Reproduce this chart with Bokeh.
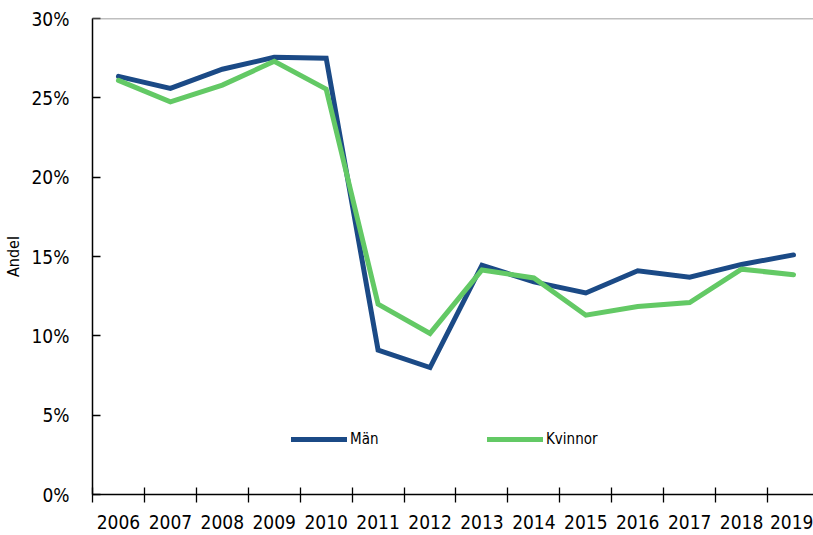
from bokeh.plotting import figure
from bokeh.models import FixedTicker, PrintfTickFormatter, Span, Legend, LegendItem
from bokeh.embed import file_html
from bokeh.resources import INLINE

years = ["2006", "2007", "2008", "2009", "2010", "2011", "2012",
         "2013", "2014", "2015", "2016", "2017", "2018", "2019"]
man = [26.35, 25.6, 26.8, 27.55, 27.5, 9.1, 8.0,
       14.45, 13.4, 12.7, 14.1, 13.7, 14.5, 15.1]
kvinnor = [26.1, 24.75, 25.8, 27.3, 25.55, 12.0, 10.15,
           14.15, 13.65, 11.3, 11.85, 12.1, 14.2, 13.85]
yticks = [0, 5, 10, 15, 20, 25, 30]

FONT = "DejaVu Sans Condensed"
BLUE = "#1b4a86"
GREEN = "#63c965"

n = len(years)
xs = [i + 0.5 for i in range(n)]

p = figure(width=813, height=535, output_backend="svg", toolbar_location=None,
           x_range=(0, 13.885), y_range=(0, 30),
           min_border_left=91, min_border_right=0, min_border_top=18,
           min_border_bottom=41)
p.outline_line_color = None
p.xgrid.grid_line_color = None
p.ygrid.grid_line_color = None
p.background_fill_color = "white"
p.border_fill_color = "white"

r1 = p.line(xs, man, line_color=BLUE, line_width=5, line_join="miter", line_cap="round")
r2 = p.line(xs, kvinnor, line_color=GREEN, line_width=5, line_join="miter", line_cap="round")

p.add_layout(Span(location=30, dimension="width", line_color="#808080", line_width=1.5))

# x axis
xa = p.xaxis[0]
xa.ticker = FixedTicker(ticks=xs, minor_ticks=list(range(n)))
xa.major_label_overrides = {x: y for x, y in zip(xs, years)}
xa.major_tick_in = 0
xa.major_tick_out = 0
xa.minor_tick_in = 7
xa.minor_tick_out = 8
xa.minor_tick_line_color = "black"
xa.minor_tick_line_width = 1.3
xa.axis_line_color = "black"
xa.axis_line_width = 1.5
xa.major_label_text_font = FONT
xa.major_label_text_font_size = "19px"
xa.major_label_text_color = "black"
xa.major_label_standoff = 12

# y axis
ya = p.yaxis[0]
ya.ticker = FixedTicker(ticks=yticks, minor_ticks=[])
ya.formatter = PrintfTickFormatter(format="%d%%")
ya.major_tick_in = 8
ya.major_tick_out = 0
ya.major_tick_line_color = "black"
ya.major_tick_line_width = 1.3
ya.axis_line_color = "black"
ya.axis_line_width = 1.5
ya.major_label_text_font = FONT
ya.major_label_text_font_size = "19px"
ya.major_label_text_color = "black"
ya.major_label_standoff = 23
ya.axis_label = "Andel"
ya.axis_label_text_font = FONT
ya.axis_label_text_font_size = "16px"
ya.axis_label_text_font_style = "normal"
ya.axis_label_text_color = "black"
ya.axis_label_standoff = 6

legend = Legend(items=[LegendItem(label="Män", renderers=[r1]),
                       LegendItem(label="Kvinnor", renderers=[r2])],
                orientation="horizontal", location=(199, 45),
                glyph_width=56, glyph_height=20, label_width=137,
                label_standoff=3, spacing=0, padding=0, margin=0,
                border_line_color=None, background_fill_alpha=0,
                label_text_font=FONT, label_text_font_size="15px",
                label_text_color="black")
p.add_layout(legend)

open("out.html", "w").write(file_html(p, INLINE))
